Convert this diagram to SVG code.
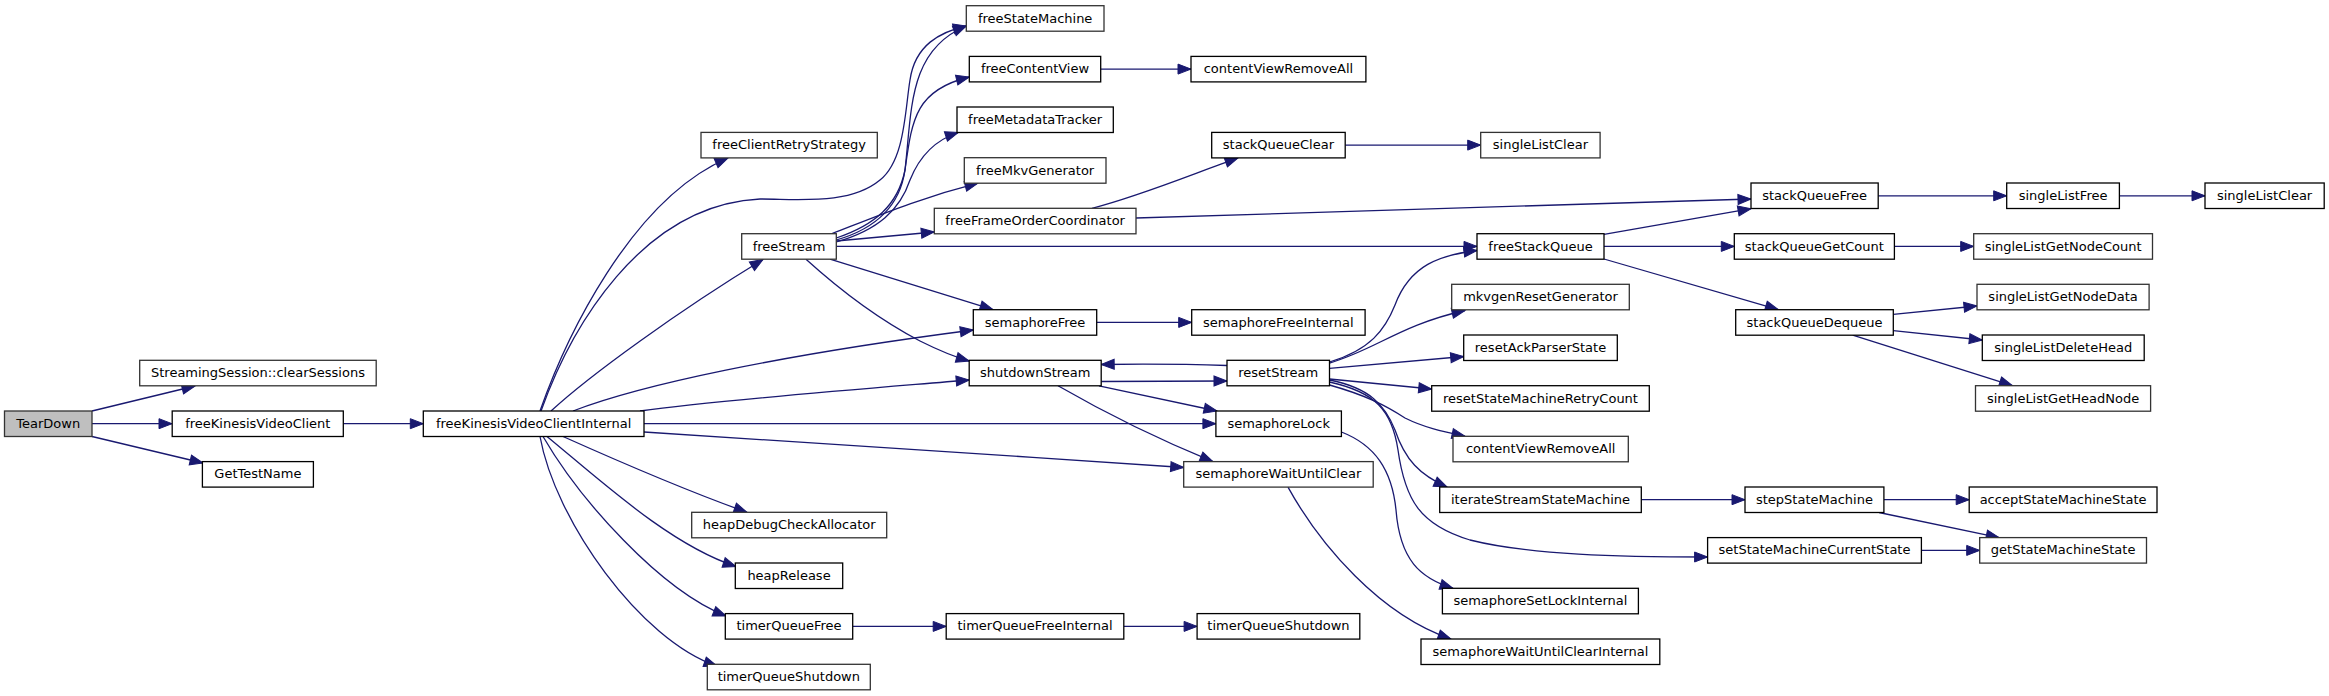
<svg xmlns="http://www.w3.org/2000/svg" width="2329" height="696" viewBox="0 0 2329 696">
<style>
rect{fill:#fff;stroke:#000;stroke-width:1.3}
rect.g{stroke:#333333}
rect.root{fill:#bfbfbf;stroke:#333333}
text{font-family:"DejaVu Sans","Liberation Sans",sans-serif;font-size:13px;text-anchor:middle;fill:#000}
.e{fill:none;stroke:#191970;stroke-width:1.3}
</style>
<defs>
<marker id="a" markerUnits="userSpaceOnUse" markerWidth="14" markerHeight="11" refX="13" refY="5" orient="auto" overflow="visible"><path d="M0,0 L13,5 L0,10 z" fill="#191970" stroke="#191970" stroke-width="1"/></marker>
</defs>
<rect x="0" y="0" width="2329" height="696" style="fill:#fff;stroke:none"/>
<g id="edges" class="edges">
<path class="e" marker-end="url(#a)" d="M92,411 L195,386"/>
<path class="e" marker-end="url(#a)" d="M92,423.7 L172,423.7"/>
<path class="e" marker-end="url(#a)" d="M92,436.5 L203,463"/>
<path class="e" marker-end="url(#a)" d="M343.3,423.7 L423.3,423.7"/>
<path class="e" marker-end="url(#a)" d="M540,411 C565,340 630,200 728,158"/>
<path class="e" marker-end="url(#a)" d="M541,411 C570,330 640,205 760,199 C800,199 850,205 880,180 C905,160 905,110 910,80 C915,45 940,32 966.3,26"/>
<path class="e" marker-end="url(#a)" d="M551,411 C590,375 680,310 763,259.5"/>
<path class="e" marker-end="url(#a)" d="M573,411 C640,385 780,355 973.3,330"/>
<path class="e" marker-end="url(#a)" d="M640,411 C720,400 850,390 969.2,380"/>
<path class="e" marker-end="url(#a)" d="M644,423.7 L1215.9,423.7"/>
<path class="e" marker-end="url(#a)" d="M644,432 C800,442 1000,455 1183.7,467.5"/>
<path class="e" marker-end="url(#a)" d="M563,436.5 C620,462 690,492 747,512.3"/>
<path class="e" marker-end="url(#a)" d="M547,436.5 C600,480 670,545 736,566.5"/>
<path class="e" marker-end="url(#a)" d="M543,436.5 C580,500 660,590 726,616"/>
<path class="e" marker-end="url(#a)" d="M540,436.5 C555,520 640,640 717,666"/>
<path class="e" marker-end="url(#a)" d="M836.3,238 C875,225 898,205 905,170 C912,110 908,50 966.3,26"/>
<path class="e" marker-end="url(#a)" d="M836.3,240 C878,228 900,205 905,170 C912,120 915,90 969.3,77"/>
<path class="e" marker-end="url(#a)" d="M836.3,242 C878,230 900,210 910,180 C920,155 935,140 958.3,132.5"/>
<path class="e" marker-end="url(#a)" d="M832,233.7 C880,215 920,198 978,183.2"/>
<path class="e" marker-end="url(#a)" d="M836.3,241 L934.3,232"/>
<path class="e" marker-end="url(#a)" d="M836.3,246.4 L1477,246.4"/>
<path class="e" marker-end="url(#a)" d="M830,259.2 L993,309.7"/>
<path class="e" marker-end="url(#a)" d="M806,259.2 C840,290 880,320 920,341 C940,351 955,357 969.2,361"/>
<path class="e" marker-end="url(#a)" d="M1100.7,69.1 L1191,69.1"/>
<path class="e" marker-end="url(#a)" d="M1092,208.3 C1140,196 1190,175 1238,157.9"/>
<path class="e" marker-end="url(#a)" d="M1136,218 L1751,199"/>
<path class="e" marker-end="url(#a)" d="M1345.2,145.1 L1480.7,145.1"/>
<path class="e" marker-end="url(#a)" d="M1096.7,322.4 L1191.7,322.4"/>
<path class="e" marker-end="url(#a)" d="M1101.2,381.5 L1227,381"/>
<path class="e" marker-end="url(#a)" d="M1227,365.5 C1180,364 1140,364 1101.2,364.5"/>
<path class="e" marker-end="url(#a)" d="M1099,385.8 L1217,411"/>
<path class="e" marker-end="url(#a)" d="M1058,385.8 C1100,410 1160,440 1213,461.6"/>
<path class="e" marker-end="url(#a)" d="M1329.5,362 C1370,350 1385,330 1395,305 C1410,265 1440,255 1477,250.5"/>
<path class="e" marker-end="url(#a)" d="M1329.5,363 C1375,350 1400,325 1465,310.5"/>
<path class="e" marker-end="url(#a)" d="M1329.5,368.3 L1463.7,356.5"/>
<path class="e" marker-end="url(#a)" d="M1329.5,379 L1431.7,389"/>
<path class="e" marker-end="url(#a)" d="M1329.5,385 C1365,395 1385,405 1405,418 C1425,428 1445,432 1465,436.3"/>
<path class="e" marker-end="url(#a)" d="M1329.5,380 C1370,388 1385,405 1395,430 C1405,460 1420,475 1447,487"/>
<path class="e" marker-end="url(#a)" d="M1329.5,382 C1375,392 1392,410 1398,450 C1405,500 1420,525 1470,540 C1530,555 1620,557 1707.6,557"/>
<path class="e" marker-end="url(#a)" d="M1341.4,432 C1375,445 1392,470 1396,510 C1400,560 1420,578 1453,588.3"/>
<path class="e" marker-end="url(#a)" d="M1288,487.1 C1320,545 1380,615 1451,639"/>
<path class="e" marker-end="url(#a)" d="M852.7,626.4 L946.2,626.4"/>
<path class="e" marker-end="url(#a)" d="M1123.8,626.4 L1197.1,626.4"/>
<path class="e" marker-end="url(#a)" d="M1604,234.3 L1751,208.7"/>
<path class="e" marker-end="url(#a)" d="M1604,246.4 L1734.3,246.4"/>
<path class="e" marker-end="url(#a)" d="M1604,259 L1778.3,309.7"/>
<path class="e" marker-end="url(#a)" d="M1878.2,195.8 L2006.7,195.8"/>
<path class="e" marker-end="url(#a)" d="M2119.4,195.8 L2205,195.8"/>
<path class="e" marker-end="url(#a)" d="M1894.4,246.4 L1973.7,246.4"/>
<path class="e" marker-end="url(#a)" d="M1893.3,314.3 L1977,306"/>
<path class="e" marker-end="url(#a)" d="M1893.3,330.7 L1982.3,340"/>
<path class="e" marker-end="url(#a)" d="M1852.7,335.2 L2012.4,385.7"/>
<path class="e" marker-end="url(#a)" d="M1641.3,499.7 L1745,499.7"/>
<path class="e" marker-end="url(#a)" d="M1883.9,499.7 L1969.2,499.7"/>
<path class="e" marker-end="url(#a)" d="M1879,512.5 L1999.2,537.6"/>
<path class="e" marker-end="url(#a)" d="M1921.4,550.4 L1979.7,550.4"/>
</g>
<g id="n1"><rect class="root" x="4.5" y="411" width="87.5" height="25.5"/><text x="48.25" y="427.8">TearDown</text></g>
<g id="n2"><rect class="g" x="139.7" y="360.3" width="236.5" height="25.5"/><text x="257.95" y="377.1">StreamingSession::clearSessions</text></g>
<g id="n3"><rect x="172.2" y="411" width="171.1" height="25.5"/><text x="257.75" y="427.8">freeKinesisVideoClient</text></g>
<g id="n4"><rect x="202.4" y="461.6" width="111" height="25.5"/><text x="257.9" y="478.4">GetTestName</text></g>
<g id="n5"><rect x="423.3" y="411" width="220.7" height="25.5"/><text x="533.65" y="427.8">freeKinesisVideoClientInternal</text></g>
<g id="n6"><rect class="g" x="701" y="132.4" width="176.3" height="25.5"/><text x="789.15" y="149.2">freeClientRetryStrategy</text></g>
<g id="n7"><rect class="g" x="741.7" y="233.7" width="94.6" height="25.5"/><text x="789" y="250.5">freeStream</text></g>
<g id="n8"><rect class="g" x="966.3" y="5.7" width="137.7" height="25.5"/><text x="1035.15" y="22.5">freeStateMachine</text></g>
<g id="n9"><rect x="969.3" y="56.4" width="131.4" height="25.5"/><text x="1035" y="73.2">freeContentView</text></g>
<g id="n10"><rect x="957" y="107" width="156.3" height="25.5"/><text x="1035.15" y="123.8">freeMetadataTracker</text></g>
<g id="n11"><rect class="g" x="964.3" y="157.7" width="141.7" height="25.5"/><text x="1035.15" y="174.5">freeMkvGenerator</text></g>
<g id="n12"><rect class="g" x="934.3" y="208.3" width="201.7" height="25.5"/><text x="1035.15" y="225.1">freeFrameOrderCoordinator</text></g>
<g id="n13"><rect x="973.3" y="309.7" width="123.4" height="25.5"/><text x="1035" y="326.5">semaphoreFree</text></g>
<g id="n14"><rect x="969.2" y="360.3" width="132" height="25.5"/><text x="1035.2" y="377.1">shutdownStream</text></g>
<g id="n15"><rect class="g" x="691.7" y="512.3" width="195" height="25.5"/><text x="789.2" y="529.1">heapDebugCheckAllocator</text></g>
<g id="n16"><rect x="735.3" y="563" width="107.4" height="25.5"/><text x="789" y="579.8">heapRelease</text></g>
<g id="n17"><rect x="725.3" y="613.6" width="127.4" height="25.5"/><text x="789" y="630.4">timerQueueFree</text></g>
<g id="n18"><rect class="g" x="707.3" y="664.3" width="163" height="25.5"/><text x="788.8" y="681.1">timerQueueShutdown</text></g>
<g id="n19"><rect x="1191" y="56.4" width="174.9" height="25.5"/><text x="1278.45" y="73.2">contentViewRemoveAll</text></g>
<g id="n20"><rect x="1211.7" y="132.4" width="133.5" height="25.5"/><text x="1278.45" y="149.2">stackQueueClear</text></g>
<g id="n21"><rect x="1191.7" y="309.7" width="173.4" height="25.5"/><text x="1278.4" y="326.5">semaphoreFreeInternal</text></g>
<g id="n22"><rect x="1227" y="360.3" width="102.5" height="25.5"/><text x="1278.25" y="377.1">resetStream</text></g>
<g id="n23"><rect x="1215.9" y="411" width="125.5" height="25.5"/><text x="1278.65" y="427.8">semaphoreLock</text></g>
<g id="n24"><rect class="g" x="1183.7" y="461.6" width="189.5" height="25.5"/><text x="1278.45" y="478.4">semaphoreWaitUntilClear</text></g>
<g id="n25"><rect x="946.2" y="613.6" width="177.6" height="25.5"/><text x="1035" y="630.4">timerQueueFreeInternal</text></g>
<g id="n26"><rect x="1197.1" y="613.6" width="162.7" height="25.5"/><text x="1278.45" y="630.4">timerQueueShutdown</text></g>
<g id="n27"><rect class="g" x="1480.7" y="132.4" width="119.4" height="25.5"/><text x="1540.4" y="149.2">singleListClear</text></g>
<g id="n28"><rect x="1477" y="233.7" width="127" height="25.5"/><text x="1540.5" y="250.5">freeStackQueue</text></g>
<g id="n29"><rect class="g" x="1451.7" y="284.3" width="177.6" height="25.5"/><text x="1540.5" y="301.1">mkvgenResetGenerator</text></g>
<g id="n30"><rect x="1463.7" y="335" width="153.6" height="25.5"/><text x="1540.5" y="351.8">resetAckParserState</text></g>
<g id="n31"><rect x="1431.7" y="385.7" width="217.6" height="25.5"/><text x="1540.5" y="402.5">resetStateMachineRetryCount</text></g>
<g id="n32"><rect class="g" x="1453" y="436.3" width="175.3" height="25.5"/><text x="1540.65" y="453.1">contentViewRemoveAll</text></g>
<g id="n33"><rect x="1439.7" y="487" width="201.6" height="25.5"/><text x="1540.5" y="503.8">iterateStreamStateMachine</text></g>
<g id="n34"><rect x="1442.4" y="588.3" width="196" height="25.5"/><text x="1540.4" y="605.1">semaphoreSetLockInternal</text></g>
<g id="n35"><rect x="1421" y="639" width="238.8" height="25.5"/><text x="1540.4" y="655.8">semaphoreWaitUntilClearInternal</text></g>
<g id="n36"><rect x="1751" y="183" width="127.2" height="25.5"/><text x="1814.6" y="199.8">stackQueueFree</text></g>
<g id="n37"><rect x="1734.3" y="233.7" width="160.1" height="25.5"/><text x="1814.35" y="250.5">stackQueueGetCount</text></g>
<g id="n38"><rect x="1735.7" y="309.7" width="157.6" height="25.5"/><text x="1814.5" y="326.5">stackQueueDequeue</text></g>
<g id="n39"><rect x="1745" y="487" width="138.9" height="25.5"/><text x="1814.45" y="503.8">stepStateMachine</text></g>
<g id="n40"><rect x="1707.6" y="537.6" width="213.8" height="25.5"/><text x="1814.5" y="554.4">setStateMachineCurrentState</text></g>
<g id="n41"><rect x="2006.7" y="183" width="112.7" height="25.5"/><text x="2063.05" y="199.8">singleListFree</text></g>
<g id="n42"><rect class="g" x="1973.7" y="233.7" width="178.8" height="25.5"/><text x="2063.1" y="250.5">singleListGetNodeCount</text></g>
<g id="n43"><rect class="g" x="1977" y="284.3" width="172.1" height="25.5"/><text x="2063.05" y="301.1">singleListGetNodeData</text></g>
<g id="n44"><rect x="1982.3" y="335" width="161.9" height="25.5"/><text x="2063.25" y="351.8">singleListDeleteHead</text></g>
<g id="n45"><rect class="g" x="1975.5" y="385.7" width="175.1" height="25.5"/><text x="2063.05" y="402.5">singleListGetHeadNode</text></g>
<g id="n46"><rect x="1969.2" y="487" width="187.8" height="25.5"/><text x="2063.1" y="503.8">acceptStateMachineState</text></g>
<g id="n47"><rect class="g" x="1979.7" y="537.6" width="166.8" height="25.5"/><text x="2063.1" y="554.4">getStateMachineState</text></g>
<g id="n48"><rect x="2205" y="183" width="119.2" height="25.5"/><text x="2264.6" y="199.8">singleListClear</text></g>
</svg>
